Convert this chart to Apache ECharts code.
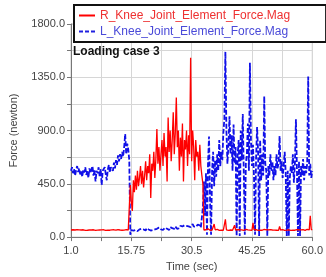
<!DOCTYPE html>
<html>
<head>
<meta charset="utf-8">
<script src="https://cdn.jsdelivr.net/npm/echarts@6/dist/echarts.min.js"></script>
<style>
  html, body { margin: 0; padding: 0; background: #fff; }
  #chart { width: 326px; height: 277px; }
</style>
</head>
<body>
<div id="chart"></div>
<script>
// sampling grid of both force curves (sec)
var T_START = 1
var T_STEP = 0.25

var xTicks = ['1.0', '15.75', '30.5', '45.25', '60.0']

// L knee force, newton (one row = one second)
var leftKnee = [
  560, 590, 540, 575,
  520, 565, 600, 550,
  580, 530, 555, 510,
  570, 545, 590, 525,
  560, 500, 580, 540,
  555, 600, 520, 565,
  470, 560, 540, 590,
  515, 575, 440, 560,
  545, 590, 530, 480,
  570, 610, 545, 590,
  600, 560, 630, 580,
  650, 610, 690, 640,
  700, 660, 720, 680,
  760, 870, 700, 790,
  740, 650, 20, 60,
  70, 55, 65, 60,
  70, 50, 60, 65,
  55, 70, 60, 65,
  60, 55, 75, 60,
  65, 60, 55, 70,
  60, 75, 65, 60,
  70, 60, 80, 65,
  65, 75, 60, 70,
  80, 65, 70, 75,
  60, 85, 70, 75,
  80, 70, 90, 75,
  70, 85, 75, 95,
  80, 90, 75, 100,
  85, 95, 80, 90,
  100, 85, 95, 110,
  90, 100, 85, 95,
  105, 90, 100, 80,
  95, 250, 470, 180,
  540, 20, 620, 850,
  300, 20, 560, 720,
  430, 650, 510, 700,
  560, 820, 600, 720,
  650, 880, 1000, 1565,
  900, 620, 780, 1020,
  700, 860, 560, 950,
  620, 760, 10, 700,
  820, 10, 900, 650,
  1040, 540, 20, 620,
  700, 960, 560, 1473,
  820, 600, 780, 500,
  20, 660, 930, 720,
  10, 820, 480, 700,
  520, 1190, 620, 560,
  10, 600, 520, 700,
  560, 640, 480, 600,
  520, 700, 580, 620,
  854, 560, 640, 500,
  600, 720, 540, 10,
  560, 10, 500, 600,
  540, 700, 460, 620,
  996, 560, 10, 640,
  10, 600, 520, 660,
  480, 600, 540, 620,
  1356, 520, 620, 500,
  560
]

// R knee force, newton
var rightKnee = [
  60, 55, 62, 58,
  60, 57, 63, 59,
  61, 56, 60, 58,
  62, 59, 57, 61,
  58, 63, 60, 56,
  60, 58, 62, 59,
  57, 61, 59, 63,
  60, 56, 61, 58,
  62, 60, 57, 61,
  59, 63, 58, 60,
  61, 57, 62, 59,
  58, 60, 63, 57,
  60, 62, 58, 61,
  59, 57, 63, 60,
  60, 62, 440, 300,
  220, 480, 380, 520,
  400, 560, 430, 500,
  600, 450, 560, 420,
  520, 640, 480, 600,
  540, 700, 330, 620,
  560, 720, 500, 660,
  912, 620, 760, 560,
  700, 820, 600, 880,
  680, 760, 470, 1010,
  720, 900, 640, 820,
  1055, 700, 880, 1180,
  760, 900, 560, 840,
  680, 960, 470, 820,
  740, 900, 600, 860,
  700, 1515, 640, 900,
  760, 480, 820, 680,
  720, 560, 780, 600,
  520, 450, 60, 55,
  62, 58, 70, 60,
  57, 65, 60, 58,
  110, 62, 58, 66,
  60, 57, 64, 59,
  61, 58, 66, 150,
  62, 59, 57, 63,
  60, 66, 58, 61,
  100, 60, 57, 64,
  59, 62, 58, 61,
  63, 57, 60, 66,
  58, 61, 64, 59,
  60, 57, 120, 62,
  58, 63, 60, 57,
  64, 59, 61, 58,
  60, 66, 57, 62,
  59, 61, 58, 64,
  57, 60, 63, 59,
  62, 58, 61, 57,
  90, 60, 58, 63,
  61, 57, 64, 59,
  58, 62, 60, 57,
  63, 59, 61, 58,
  60, 64, 57, 62,
  59, 61, 58, 63,
  62, 57, 60, 66,
  58, 61, 180, 64,
  60
]

function toPoints (vals) {
  return vals.map(function (v, i) { return [T_START + i * T_STEP, v] })
}

var chart = echarts.init(document.getElementById('chart'), null, { renderer: 'canvas' })
var labelColor = '#444'
var fontFam = '"Liberation Sans", Arial, sans-serif'

chart.setOption({
  animation: false,
  grid: {
    left: 71,
    right: 10,
    top: 24,
    bottom: 38,
    show: true,
    borderColor: '#c8c8c8',
    borderWidth: 1
  },
  graphic: [{
    type: 'text',
    left: 73,
    top: 46,
    z: 100,
    style: {
      text: 'Loading case 3',
      font: 'bold 12px ' + fontFam,
      fill: '#111'
    }
  }],
  legend: {
    orient: 'vertical',
    left: 74,
    top: 5,
    z: 50,
    backgroundColor: '#fff',
    borderColor: '#111',
    borderWidth: 2,
    padding: [4, 36, 4, 5],
    itemWidth: 16,
    itemHeight: 2,
    itemGap: 3,
    symbolKeepAspect: false,
    textStyle: { fontSize: 12, fontFamily: fontFam, lineHeight: 13 },
    data: [
      {
        name: 'R_Knee_Joint_Element_Force.Mag',
        icon: 'rect',
        itemStyle: { color: '#ff0000' },
        textStyle: { color: '#ee3030' }
      },
      {
        name: 'L_Knee_Joint_Element_Force.Mag',
        icon: 'path://M0,0h4v2h-4z M6,0h4v2h-4z M12,0h4v2h-4z',
        itemStyle: { color: '#2020e0' },
        textStyle: { color: '#4a4ad8' }
      }
    ]
  },
  xAxis: {
    type: 'value',
    min: 1,
    max: 60,
    interval: 7.375,
    name: 'Time (sec)',
    nameLocation: 'middle',
    nameGap: 23,
    nameTextStyle: { color: labelColor, fontSize: 11, fontFamily: fontFam },
    axisLine: { lineStyle: { color: '#777' } },
    axisTick: { show: true, length: 4, lineStyle: { color: '#777' } },
    splitLine: { show: true, lineStyle: { color: '#d6d6d6' } },
    axisLabel: {
      color: labelColor,
      fontSize: 11,
      fontFamily: fontFam,
      margin: 8,
      formatter: function (v) {
        var k = Math.round((v - T_START) / 7.375)
        if (k % 2 !== 0) return ''
        return xTicks[k / 2]
      }
    }
  },
  yAxis: {
    type: 'value',
    min: 0,
    max: 1800,
    interval: 225,
    name: 'Force (newton)',
    nameLocation: 'middle',
    nameGap: 52,
    nameTextStyle: { color: labelColor, fontSize: 11, fontFamily: fontFam },
    axisLine: { show: true, lineStyle: { color: '#777' } },
    axisTick: { show: true, length: 4, lineStyle: { color: '#777' } },
    splitLine: { show: true, lineStyle: { color: '#d6d6d6' } },
    axisLabel: {
      color: labelColor,
      fontSize: 11,
      fontFamily: fontFam,
      margin: 6,
      formatter: function (v) {
        return v % 450 === 0 ? v.toFixed(1) : ''
      }
    }
  },
  series: [
    {
      name: 'L_Knee_Joint_Element_Force.Mag',
      type: 'line',
      symbol: 'none',
      data: toPoints(leftKnee),
      lineStyle: { color: '#1010e8', width: 1.8, type: [5, 2] },
      itemStyle: { color: '#1010e8' }
    },
    {
      name: 'R_Knee_Joint_Element_Force.Mag',
      type: 'line',
      symbol: 'none',
      data: toPoints(rightKnee),
      lineStyle: { color: '#ff0000', width: 1.3 },
      itemStyle: { color: '#ff0000' }
    }
  ]
})
</script>
</body>
</html>
